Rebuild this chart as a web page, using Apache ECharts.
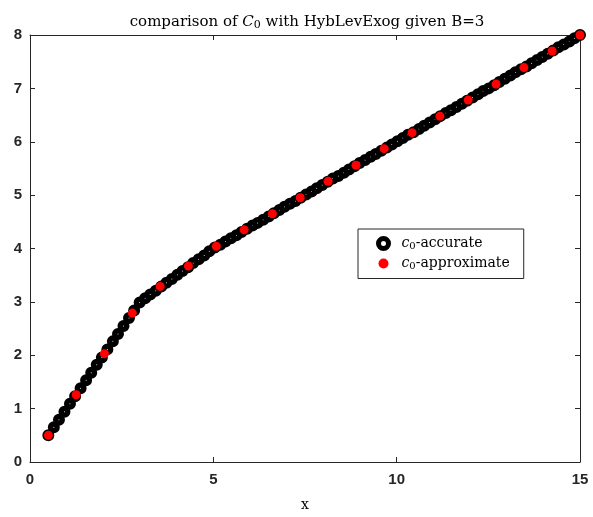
<!DOCTYPE html>
<html>
<head>
<meta charset="utf-8">
<script src="https://cdn.jsdelivr.net/npm/echarts@6/dist/echarts.min.js"></script>
<style>
  html, body { margin: 0; padding: 0; background: #fff; }
  #chart { width: 593px; height: 517px; }
</style>
</head>
<body>
<div id="chart"></div>
<script>
// Dense evaluation of the accurate C0 solution
const accurateX = [
  0.50, 0.65, 0.79, 0.94, 1.09, 1.23, 1.38, 1.53, 1.67, 1.82,
  1.96, 2.11, 2.26, 2.40, 2.55, 2.70, 2.84, 2.99, 3.14, 3.28,
  3.43, 3.58, 3.72, 3.87, 4.02, 4.16, 4.31, 4.45, 4.60, 4.75,
  4.89, 5.04, 5.19, 5.33, 5.48, 5.63, 5.77, 5.92, 6.07, 6.21,
  6.36, 6.51, 6.65, 6.80, 6.94, 7.09, 7.24, 7.38, 7.53, 7.68,
  7.82, 7.97, 8.12, 8.26, 8.41, 8.56, 8.70, 8.85, 8.99, 9.14,
  9.29, 9.43, 9.58, 9.73, 9.87, 10.02, 10.17, 10.31, 10.46, 10.61,
  10.75, 10.90, 11.05, 11.19, 11.34, 11.48, 11.63, 11.78, 11.92, 12.07,
  12.22, 12.36, 12.51, 12.66, 12.80, 12.95, 13.10, 13.24, 13.39, 13.54,
  13.68, 13.83, 13.97, 14.12, 14.27, 14.41, 14.56, 14.71, 14.85, 15.00
];
const accurateY = [
  0.50, 0.65, 0.79, 0.94, 1.09, 1.23, 1.38, 1.53, 1.67, 1.82,
  1.96, 2.11, 2.26, 2.40, 2.55, 2.70, 2.84, 2.99, 3.07, 3.14,
  3.21, 3.29, 3.36, 3.43, 3.51, 3.58, 3.65, 3.73, 3.80, 3.87,
  3.95, 4.02, 4.07, 4.13, 4.19, 4.25, 4.31, 4.37, 4.43, 4.48,
  4.54, 4.60, 4.66, 4.72, 4.78, 4.84, 4.89, 4.95, 5.01, 5.07,
  5.13, 5.19, 5.25, 5.31, 5.36, 5.42, 5.48, 5.54, 5.60, 5.66,
  5.72, 5.77, 5.83, 5.89, 5.95, 6.01, 6.07, 6.13, 6.18, 6.24,
  6.30, 6.36, 6.42, 6.48, 6.54, 6.59, 6.65, 6.71, 6.77, 6.83,
  6.89, 6.95, 7.00, 7.06, 7.12, 7.18, 7.24, 7.30, 7.36, 7.41,
  7.47, 7.53, 7.59, 7.65, 7.71, 7.77, 7.82, 7.88, 7.94, 8.00
];

// Coarse HybLevExog approximation
const approxX = [
  0.50, 1.26, 2.03, 2.79, 3.55, 4.32, 5.08, 5.84, 6.61, 7.37,
  8.13, 8.89, 9.66, 10.42, 11.18, 11.95, 12.71, 13.47, 14.24, 15.00
];
const approxY = [
  0.50, 1.26, 2.03, 2.79, 3.29, 3.67, 4.04, 4.35, 4.65, 4.95,
  5.26, 5.56, 5.87, 6.17, 6.48, 6.78, 7.08, 7.39, 7.70, 8.00
];

const xTicks = { min: 0, max: 15, interval: 5 };
const yTicks = { min: 0, max: 8, interval: 1 };

const axisColor = '#262626';
const serif = '"DejaVu Serif", "Liberation Serif", serif';
const sans = '"Liberation Sans", Arial, sans-serif';

const pairs = (xs, ys) => xs.map((x, i) => [x, ys[i]]);

const chart = echarts.init(document.getElementById('chart'), null, { renderer: 'canvas' });

const frameAxis = {
  axisLine: { show: true, onZero: false, lineStyle: { color: axisColor, width: 1 } },
  axisTick: { show: true, inside: true, length: 5, lineStyle: { color: axisColor, width: 1 } },
  splitLine: { show: false }
};

function richText(size) {
  return {
    i: { fontFamily: serif, fontStyle: 'italic', fontWeight: 'normal', fontSize: size, color: '#000' },
    s: { fontFamily: serif, fontWeight: 'normal', fontSize: size - 4, color: '#000', padding: [6, 0, 0, 0] },
    t: { fontFamily: serif, fontWeight: 'normal', fontSize: size, color: '#000' }
  };
}

chart.setOption({
  animation: false,
  backgroundColor: '#fff',
  title: {
    text: '{t|comparison of }{i|C}{s|0}{t| with HybLevExog given B=3}',
    left: 302,
    textAlign: 'center',
    top: 9,
    textStyle: { fontWeight: 'normal', rich: richText(15) }
  },
  grid: { left: 30, right: 13, top: 35, bottom: 47, containLabel: false },
  xAxis: [
    Object.assign({
      type: 'value', position: 'bottom',
      min: xTicks.min, max: xTicks.max, interval: xTicks.interval,
      name: 'x', nameLocation: 'middle', nameGap: 36,
      nameTextStyle: { fontFamily: serif, fontSize: 14, color: '#000' },
      axisLabel: { color: axisColor, fontFamily: sans, fontWeight: 'bold', fontSize: 15, margin: 10 }
    }, frameAxis),
    Object.assign({
      type: 'value', position: 'top',
      min: xTicks.min, max: xTicks.max, interval: xTicks.interval,
      axisLabel: { show: false }
    }, frameAxis)
  ],
  yAxis: [
    Object.assign({
      type: 'value', position: 'left',
      min: yTicks.min, max: yTicks.max, interval: yTicks.interval,
      axisLabel: { color: axisColor, fontFamily: sans, fontWeight: 'bold', fontSize: 15, margin: 8 }
    }, frameAxis),
    Object.assign({
      type: 'value', position: 'right',
      min: yTicks.min, max: yTicks.max, interval: yTicks.interval,
      axisLabel: { show: false }
    }, frameAxis)
  ],
  legend: {
    orient: 'vertical',
    left: 358,
    top: 229,
    padding: [7, 14, 7, 18],
    itemGap: 5,
    itemWidth: 10,
    itemHeight: 10,
    borderColor: axisColor,
    borderWidth: 1,
    backgroundColor: '#fff',
    data: [
      { name: 'c0-accurate', icon: 'circle', itemStyle: { color: '#fff', borderColor: '#000', borderWidth: 5 } },
      { name: 'c0-approximate', icon: 'circle', itemStyle: { color: '#ff0000', borderWidth: 0 } }
    ],
    formatter: function (name) {
      return '{i|c}{s|0}{t|' + name.slice(2) + '}';
    },
    textStyle: { rich: richText(14), padding: [0, 0, 0, 8] }
  },
  series: [
    {
      name: 'c0-accurate',
      type: 'scatter',
      data: pairs(accurateX, accurateY),
      symbol: 'circle',
      symbolSize: 6.5,
      itemStyle: { color: '#fff', borderColor: '#000', borderWidth: 5.5, opacity: 1 },
      z: 2
    },
    {
      name: 'c0-approximate',
      type: 'scatter',
      data: pairs(approxX, approxY),
      symbol: 'circle',
      symbolSize: 9,
      itemStyle: { color: '#ff0000', borderWidth: 0, opacity: 1 },
      z: 3
    }
  ]
});
</script>
</body>
</html>
